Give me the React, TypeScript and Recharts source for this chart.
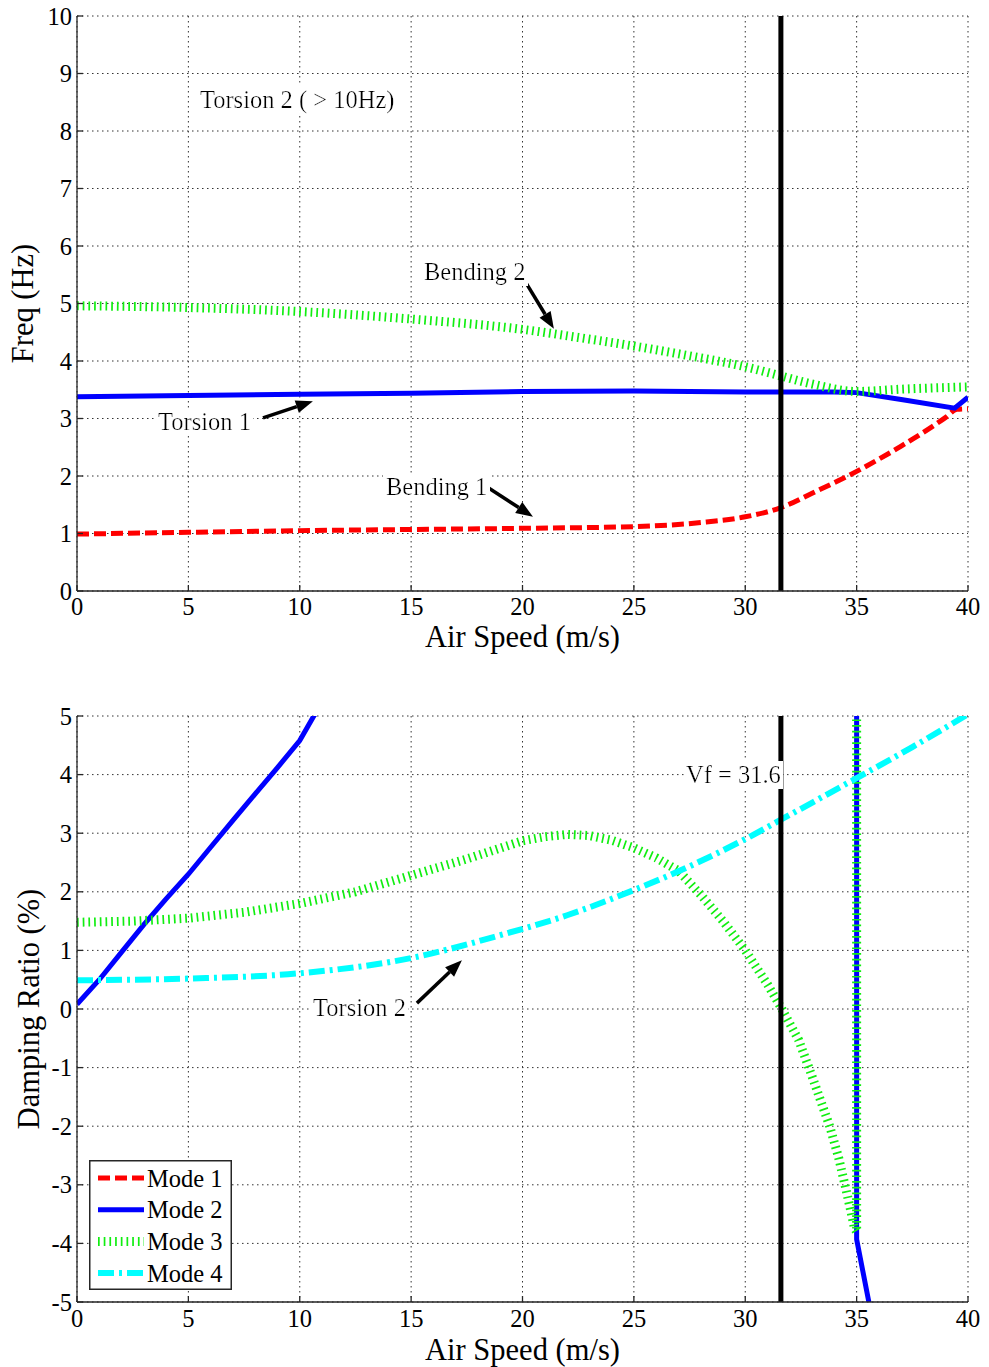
import React from 'react';
import { LineChart, Line, XAxis, YAxis, CartesianGrid, ReferenceLine, ReferenceDot, Legend } from 'recharts';

const FONT = '"Liberation Serif", "Times New Roman", serif';

// axis ticks
const speedTicks = [0, 5, 10, 15, 20, 25, 30, 35, 40];
const freqTicks = [0, 1, 2, 3, 4, 5, 6, 7, 8, 9, 10];
const dampTicks = [-5, -4, -3, -2, -1, 0, 1, 2, 3, 4, 5];

const flutterSpeed = 31.6;

// frequency (Hz) vs air speed (m/s)
const freqMode1Speed = [0, 5, 10, 15, 20, 25, 28, 30, 31.6, 33, 35, 37, 39, 39.5, 40];
const freqMode1Hz = [0.99, 1.02, 1.05, 1.07, 1.09, 1.12, 1.19, 1.29, 1.45, 1.7, 2.08, 2.52, 3.02, 3.16, 3.17];

const freqMode2Speed = [0, 5, 10, 15, 20, 25, 30, 34, 35, 37, 39.4, 40];
const freqMode2Hz = [3.38, 3.4, 3.42, 3.44, 3.47, 3.48, 3.46, 3.46, 3.45, 3.33, 3.18, 3.37];

const freqMode3Speed = [0, 5, 10, 15, 20, 22.5, 25, 27.5, 30, 31.6, 33, 35, 37, 40];
const freqMode3Hz = [4.96, 4.93, 4.86, 4.73, 4.55, 4.41, 4.26, 4.09, 3.9, 3.74, 3.6, 3.47, 3.51, 3.55];

// damping ratio (%) vs air speed (m/s)
const dampMode2Speed = [0, 1, 2, 3, 4, 5, 6, 7, 8, 9, 10, 10.6, 11.5, 35, 35, 35.6];
const dampMode2Pct = [0.08, 0.5, 0.97, 1.44, 1.88, 2.3, 2.76, 3.22, 3.67, 4.12, 4.58, 4.98, 5.5, 9, -3.93, -5.1];

const dampMode3Speed = [0, 2.5, 5, 7.5, 10, 12.5, 15, 17.5, 20, 21, 22, 23, 24, 25, 26, 27, 28, 29, 30, 31, 31.6, 32.4, 33, 33.8, 34.2, 34.5, 34.8, 34.9, 35, 35];
const dampMode3Pct = [1.48, 1.5, 1.55, 1.65, 1.8, 2.0, 2.28, 2.56, 2.87, 2.94, 2.98, 2.96, 2.88, 2.75, 2.58, 2.36, 1.95, 1.5, 1.0, 0.42, 0.03, -0.53, -1.15, -2.01, -2.55, -3.04, -3.55, -3.74, -3.8, 6];

const dampMode4Speed = [0, 5, 10, 15, 19, 22, 25, 27, 30, 31.6, 35, 37.5, 40];
const dampMode4Pct = [0.49, 0.52, 0.61, 0.87, 1.26, 1.6, 2.03, 2.35, 2.9, 3.23, 3.94, 4.47, 5.03];

const toPoints = (xs: number[], ys: number[]) => xs.map((x, i) => ({ speed: x, value: ys[i] }));

const modeStyles = [
  { name: 'Mode 1', color: '#ff0000', width: 5, dash: '12 5' },
  { name: 'Mode 2', color: '#0000ff', width: 5, dash: undefined },
  { name: 'Mode 3', color: '#11ee11', width: 9, dash: '1.7 4' },
  { name: 'Mode 4', color: '#00ffff', width: 6, dash: '16 5 3 5' },
];

const tickStyle = { fill: '#000', fontSize: 24.5, fontFamily: FONT };
const axisColor = '#262626';

function Arrow(props: any) {
  const { x1, y1, x2, y2 } = props;
  if ([x1, y1, x2, y2].some((v) => v == null || Number.isNaN(v))) return null;
  const a = Math.atan2(y2 - y1, x2 - x1);
  const len = 17;
  const half = 6.5;
  const bx = x2 - len * Math.cos(a);
  const by = y2 - len * Math.sin(a);
  const px = -Math.sin(a) * half;
  const py = Math.cos(a) * half;
  return (
    <g>
      <line x1={x1} y1={y1} x2={bx} y2={by} stroke="#000" strokeWidth={3.5} />
      <polygon points={`${x2},${y2} ${bx + px},${by + py} ${bx - px},${by - py}`} fill="#000" />
    </g>
  );
}

const note = (text: string, anchor: 'start' | 'end') => (p: any) => (
  <text
    x={p.cx}
    y={p.cy}
    textAnchor={anchor}
    dominantBaseline="central"
    fontFamily={FONT}
    fontSize={24.5}
    fill="#000"
    filter="url(#whiteBg)"
  >
    {text}
  </text>
);

function ModeLegend() {
  return (
    <svg width={143} height={130} style={{ display: 'block' }}>
      <rect x={0.75} y={0.75} width={141.5} height={128.5} fill="#fff" stroke={axisColor} strokeWidth={1.5} />
      {modeStyles.map((m, i) => {
        const cy = 18 + i * 31.7;
        return (
          <g key={m.name}>
            <line x1={9} x2={55} y1={cy} y2={cy} stroke={m.color} strokeWidth={m.width} strokeDasharray={m.dash} />
            <text x={58} y={cy} dominantBaseline="central" fontFamily={FONT} fontSize={24.5} fill="#000">
              {m.name}
            </text>
          </g>
        );
      })}
    </svg>
  );
}

function FreqChart() {
  return (
    <LineChart width={989} height={660} margin={{ top: 16, right: 21, left: 0, bottom: 7 }}>
      <CartesianGrid stroke="#333" strokeDasharray="1.5 3.5" />
      <XAxis
        type="number"
        dataKey="speed"
        domain={[0, 40]}
        ticks={speedTicks}
        interval={0}
        allowDataOverflow
        tick={tickStyle}
        tickSize={-6}
        tickMargin={13}
        stroke={axisColor}
        strokeWidth={1.3}
        height={62}
        label={{ value: 'Air Speed (m/s)', position: 'insideBottom', offset: 6, fill: '#000', fontSize: 30.5, fontFamily: FONT }}
      />
      <YAxis
        type="number"
        domain={[0, 10]}
        ticks={freqTicks}
        interval={0}
        allowDataOverflow
        tick={tickStyle}
        tickSize={-6}
        tickMargin={11}
        stroke={axisColor}
        strokeWidth={1.3}
        width={77}
        label={{ value: 'Freq (Hz)', angle: -90, position: 'insideLeft', offset: 22, fill: '#000', fontSize: 30.5, fontFamily: FONT, style: { textAnchor: 'middle' } }}
      />
      <Line data={toPoints(freqMode1Speed, freqMode1Hz)} dataKey="value" type="monotone" stroke={modeStyles[0].color} strokeWidth={modeStyles[0].width} strokeDasharray={modeStyles[0].dash} dot={false} activeDot={false} isAnimationActive={false} />
      <Line data={toPoints(freqMode2Speed, freqMode2Hz)} dataKey="value" type="linear" stroke={modeStyles[1].color} strokeWidth={modeStyles[1].width} dot={false} activeDot={false} isAnimationActive={false} />
      <Line data={toPoints(freqMode3Speed, freqMode3Hz)} dataKey="value" type="monotone" stroke={modeStyles[2].color} strokeWidth={modeStyles[2].width} strokeDasharray={modeStyles[2].dash} dot={false} activeDot={false} isAnimationActive={false} />
      <ReferenceLine x={flutterSpeed} stroke="#000" strokeWidth={5} />
      <ReferenceDot x={5.52} y={8.54} r={0} shape={note('Torsion 2 ( > 10Hz)', 'start')} />
      <ReferenceDot x={15.58} y={5.55} r={0} shape={note('Bending 2', 'start')} />
      <ReferenceDot x={3.64} y={2.94} r={0} shape={note('Torsion 1', 'start')} />
      <ReferenceDot x={13.87} y={1.81} r={0} shape={note('Bending 1', 'start')} />
      <ReferenceLine segment={[{ x: 20.11, y: 5.39 }, { x: 21.41, y: 4.56 }]} shape={Arrow} />
      <ReferenceLine segment={[{ x: 8.35, y: 3.01 }, { x: 10.59, y: 3.3 }]} shape={Arrow} />
      <ReferenceLine segment={[{ x: 18.41, y: 1.81 }, { x: 20.47, y: 1.29 }]} shape={Arrow} />
    </LineChart>
  );
}

function DampingChart() {
  return (
    <LineChart width={989} height={707} margin={{ top: 56, right: 21, left: 0, bottom: 3 }}>
      <CartesianGrid stroke="#333" strokeDasharray="1.5 3.5" />
      <XAxis
        type="number"
        dataKey="speed"
        domain={[0, 40]}
        ticks={speedTicks}
        interval={0}
        allowDataOverflow
        tick={tickStyle}
        tickSize={-6}
        tickMargin={14}
        stroke={axisColor}
        strokeWidth={1.3}
        height={62}
        label={{ value: 'Air Speed (m/s)', position: 'insideBottom', offset: 4, fill: '#000', fontSize: 30.5, fontFamily: FONT }}
      />
      <YAxis
        type="number"
        domain={[-5, 5]}
        ticks={dampTicks}
        interval={0}
        allowDataOverflow
        tick={tickStyle}
        tickSize={-6}
        tickMargin={11}
        stroke={axisColor}
        strokeWidth={1.3}
        width={77}
        label={{ value: 'Damping Ratio (%)', angle: -90, position: 'insideLeft', offset: 28, fill: '#000', fontSize: 30.5, fontFamily: FONT, style: { textAnchor: 'middle' } }}
      />
      <Line data={toPoints(dampMode2Speed, dampMode2Pct)} dataKey="value" type="linear" stroke={modeStyles[1].color} strokeWidth={modeStyles[1].width} dot={false} activeDot={false} isAnimationActive={false} />
      <Line data={toPoints(dampMode3Speed, dampMode3Pct)} dataKey="value" type="linear" stroke={modeStyles[2].color} strokeWidth={modeStyles[2].width} strokeDasharray={modeStyles[2].dash} dot={false} activeDot={false} isAnimationActive={false} />
      <Line data={toPoints(dampMode4Speed, dampMode4Pct)} dataKey="value" type="monotone" stroke={modeStyles[3].color} strokeWidth={modeStyles[3].width} strokeDasharray={modeStyles[3].dash} dot={false} activeDot={false} isAnimationActive={false} />
      <ReferenceLine x={flutterSpeed} stroke="#000" strokeWidth={5} />
      <ReferenceDot x={flutterSpeed} y={4.0} r={0} shape={note('Vf = 31.6', 'end')} />
      <ReferenceDot x={10.6} y={0.03} r={0} shape={note('Torsion 2', 'start')} />
      <ReferenceLine segment={[{ x: 15.26, y: 0.1 }, { x: 17.28, y: 0.83 }]} shape={Arrow} />
      <Legend
        layout="vertical"
        align="center"
        verticalAlign="middle"
        wrapperStyle={{ left: 89, top: 500 }}
        content={() => <ModeLegend />}
      />
    </LineChart>
  );
}

export default function App() {
  return (
    <div style={{ position: 'absolute', left: 0, top: 0, width: 989, height: 1367, background: '#fff', fontFamily: FONT }}>
      <svg width={0} height={0} style={{ position: 'absolute' }}>
        <defs>
          <filter id="whiteBg" x="-0.02" y="0" width="1.04" height="1">
            <feFlood floodColor="#ffffff" result="bg" />
            <feMerge>
              <feMergeNode in="bg" />
              <feMergeNode in="SourceGraphic" />
            </feMerge>
          </filter>
        </defs>
      </svg>
      <div style={{ position: 'absolute', left: 0, top: 0 }}>
        <FreqChart />
      </div>
      <div style={{ position: 'absolute', left: 0, top: 660 }}>
        <DampingChart />
      </div>
    </div>
  );
}
